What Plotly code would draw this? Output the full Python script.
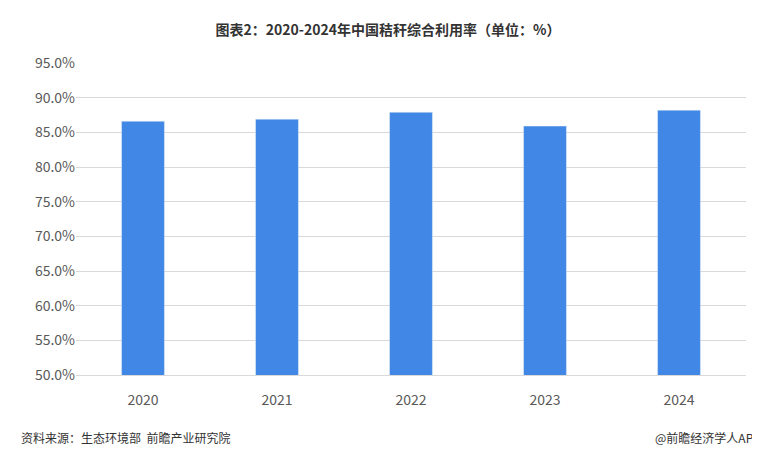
import plotly.graph_objects as go

years = ["2020", "2021", "2022", "2023", "2024"]
rates = [86.6, 86.9, 87.9, 85.9, 88.2]
yticks = [50, 55, 60, 65, 70, 75, 80, 85, 90, 95]
ytick_labels = [f"{v:.1f}%" for v in yticks]

fig = go.Figure(go.Bar(x=years, y=rates, marker_color="#4187E5", width=0.32))
fig.update_layout(
    width=760, height=460, plot_bgcolor="white", paper_bgcolor="white",
    margin=dict(l=68, r=22, t=55, b=93), showlegend=False,
    font=dict(family="Noto Sans CJK SC", color="#595959"),
    title=dict(text="<b>图表2：2020-2024年中国秸秆综合利用率（单位：%）</b>", x=0.5, y=0.963,
               xanchor="center", font=dict(size=14, color="#333333")),
)
fig.update_yaxes(range=[50, 95], tickvals=yticks, ticktext=ytick_labels, showgrid=True,
                 gridcolor="#D9D9D9", tickfont=dict(size=14, color="#595959"), zeroline=False)
fig.update_xaxes(tickfont=dict(size=14, color="#595959"), showline=True, linecolor="#D9D9D9",
                 ticklabelstandoff=12)
fig.add_annotation(text="资料来源：生态环境部  前瞻产业研究院", xref="paper", yref="paper",
                   x=-0.085, y=-0.235, xanchor="left", showarrow=False, font=dict(size=12, color="#333333"))
fig.add_annotation(text="@前瞻经济学人APP", xref="paper", yref="paper",
                   x=1.025, y=-0.235, xanchor="right", showarrow=False, font=dict(size=12, color="#333333"))
fig.write_html("out.html")
